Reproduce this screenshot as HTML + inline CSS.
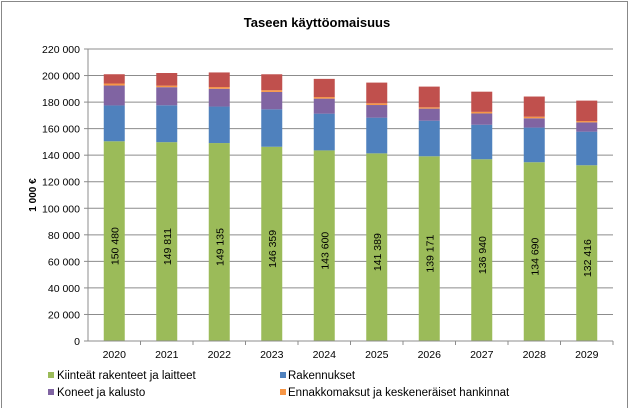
<!DOCTYPE html>
<html><head><meta charset="utf-8"><style>
body{margin:0;background:#fff;}
svg text{font-family:"Liberation Sans",Arial,sans-serif;}
</style></head><body>
<svg width="634" height="408" xmlns="http://www.w3.org/2000/svg">
<rect x="1.5" y="1.5" width="626" height="420" fill="#fff" stroke="#888"/>
<text x="317" y="27" text-anchor="middle" font-size="13" font-weight="bold" fill="#000">Taseen käyttöomaisuus</text>
<text transform="translate(36,195) rotate(-90)" text-anchor="middle" font-size="10" font-weight="bold">1 000 €</text>
<g id="grid"></g><g id="bars"></g><g id="axes"></g>
<g>
<rect x="48" y="372" width="6" height="6" fill="#9BBB59"/>
<text x="57" y="379" font-size="11.5">Kiinteät rakenteet ja laitteet</text>
<rect x="280" y="372" width="6" height="6" fill="#4F81BD"/>
<text x="288" y="379" font-size="11.5">Rakennukset</text>
<rect x="48" y="389" width="6" height="6" fill="#8064A2"/>
<text x="57" y="396" font-size="11.5">Koneet ja kalusto</text>
<rect x="280" y="389" width="6" height="6" fill="#F79646"/>
<text x="288" y="396" font-size="11.5">Ennakkomaksut ja keskeneräiset hankinnat</text>
</g>
</svg>
<script>
const categories=["2020","2021","2022","2023","2024","2025","2026","2027","2028","2029"];
const kiintea=[150480,149811,149135,146359,143600,141389,139171,136940,134690,132416];
const rakennukset=[27000,27800,27500,28200,27700,26900,26800,26000,26100,25300];
const koneet=[15000,13600,13400,13100,11300,9500,9100,8500,7000,7000];
const ennakko=[1500,1200,1300,1300,1200,1300,1000,1200,1200,1000];
const muut=[7000,9500,11000,12000,13700,15600,15600,15200,15200,15400];
const yTicks=[0,20000,40000,60000,80000,100000,120000,140000,160000,180000,200000,220000];
const series=[[kiintea,"#9BBB59","kiintea"],[rakennukset,"#4F81BD","rakennukset"],[koneet,"#8064A2","koneet"],[ennakko,"#F79646","ennakko"],[muut,"#C0504D","muut"]];
const NS="http://www.w3.org/2000/svg";
const x0=88,x1=613,y0=341,y1=49,yMax=220000;
const band=(x1-x0)/categories.length, bw=21;
const Y=v=>y0-(v/yMax)*(y0-y1);
const X=i=>x0+band*(i+0.5);
const fmt=v=>String(v).replace(/\B(?=(\d{3})+(?!\d))/g," ");
function mk(tag,attrs,parent){const e=document.createElementNS(NS,tag);for(const k in attrs)e.setAttribute(k,attrs[k]);parent.appendChild(e);return e;}
const grid=document.getElementById("grid"),bars=document.getElementById("bars"),axes=document.getElementById("axes");
yTicks.forEach(t=>{
  const l=mk("line",{x1:x0,x2:x1,y1:Y(t),y2:Y(t),stroke:"#8c8c8c","stroke-width":1},grid);
  
  
  const tk=mk("line",{x1:x0-4,x2:x0,y1:Y(t),y2:Y(t),stroke:"#8c8c8c"},axes);
  
  
  const tx=mk("text",{x:x0-8,y:Y(t)+4,"text-anchor":"end","font-size":"10.5"},axes);
  tx.textContent=fmt(t);
  
  
});
const ax=mk("line",{x1:x0,x2:x0,y1:y1,y2:y0,stroke:"#8c8c8c"},axes);


categories.forEach((c,i)=>{
  let base=0;
  series.forEach(([arr,col,nm])=>{
    const v=arr[i];
    const r=mk("rect",{x:X(i)-bw/2,y:Y(base+v),width:bw,height:Y(base)-Y(base+v),fill:col},bars);
    
    
    base+=v;
  });
  const lb=mk("text",{transform:`translate(${X(i)+4},${Y(kiintea[i]/2)+5}) rotate(-90)`,"text-anchor":"middle","font-size":"10.5"},bars);
  lb.textContent=fmt(kiintea[i]);
  
  
  const tk=mk("line",{x1:x0+band*(i+1),x2:x0+band*(i+1),y1:y0,y2:y0+4,stroke:"#8c8c8c"},axes);
  
  
  const tx=mk("text",{x:X(i),y:y0+17,"text-anchor":"middle","font-size":"10.5"},axes);
  tx.textContent=c;
  
  
});
const xa=mk("line",{x1:x0,x2:x1,y1:y0,y2:y0,stroke:"#8c8c8c"},axes);


</script>
</body></html>
